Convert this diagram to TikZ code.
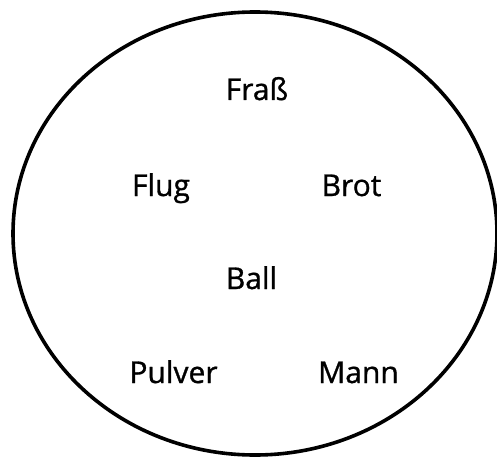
\documentclass[tikz,border=0pt]{standalone}
\usepackage{fontspec}
\setmainfont{Open Sans}[FakeBold=1]
\begin{document}
\begin{tikzpicture}[x=1pt,y=-1pt,
  word/.style={anchor=base,inner sep=0pt,font=\fontsize{30}{36}\selectfont},
  outline/.style={draw=black,line width=3.6pt}]
\useasboundingbox (0,0) rectangle (497,457);
\draw[outline] (255,233.5) ellipse [x radius=242, y radius=221.5];
\node[word] (frass) at (257,100) {Fraß};
\node[word] (flug) at (161,196) {Flug};
\node[word] (brot) at (351.5,196) {Brot};
\node[word] (ball) at (251.5,289) {Ball};
\node[word] (pulver) at (173.5,383) {Pulver};
\node[word] (mann) at (358.5,383) {Mann};
\end{tikzpicture}
\end{document}
